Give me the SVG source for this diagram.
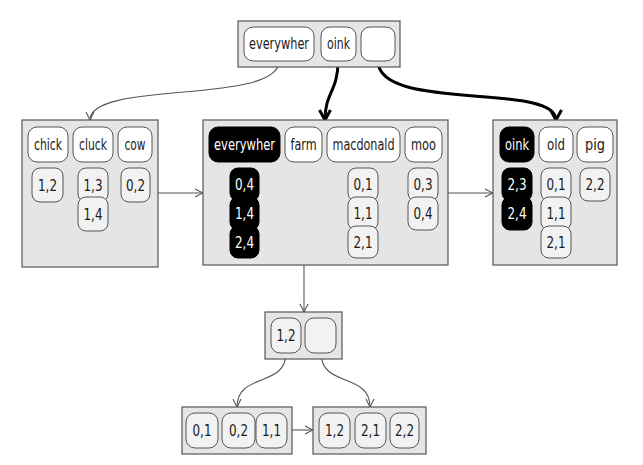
<svg xmlns="http://www.w3.org/2000/svg" width="643" height="465" viewBox="0 0 643 465">
  <defs>
    <style>
      text { font-family: "DejaVu Sans Condensed", "DejaVu Sans", "Liberation Sans", sans-serif; font-stretch: condensed; font-size: 16px; text-anchor: middle; fill: #1a1a1a; }
      .node { fill: #e5e5e5; stroke: #555; stroke-width: 1.2; }
      .key { fill: #fff; stroke: #555; stroke-width: 1; }
      .val { fill: #f2f2f2; stroke: #555; stroke-width: 1; }
      .hit { fill: #000; stroke: #000; stroke-width: 1; }
      text.inv { fill: #fff; }
      .thin { fill: none; stroke: #555; stroke-width: 1.1; }
      .thick { fill: none; stroke: #000; stroke-width: 3; }
    </style>
    <marker id="open" markerUnits="userSpaceOnUse" viewBox="0 0 10 10" refX="9" refY="5" markerWidth="10" markerHeight="10" orient="auto">
      <path d="M1,1 L9,5 L1,9" fill="none" stroke="#555" stroke-width="1.1"/>
    </marker>
    <marker id="openBold" markerUnits="userSpaceOnUse" viewBox="0 0 14 14" refX="12" refY="7" markerWidth="14" markerHeight="14" orient="auto">
      <path d="M2,1.5 L12,7 L2,12.5" fill="none" stroke="#000" stroke-width="3"/>
    </marker>
  </defs>

  <!-- connectors -->
  <g id="connectors">
    <path class="thin" d="M279,61 C279,105 90,80 90,120" marker-end="url(#open)"/>
    <path class="thick" d="M338,61 C338,92 325,92 325,120" marker-end="url(#openBold)"/>
    <path class="thick" d="M378,61 C378,112 556,82 556,120" marker-end="url(#openBold)"/>
    <path class="thin" d="M158,193 L203,193" marker-end="url(#open)"/>
    <path class="thin" d="M448,193 L493,193" marker-end="url(#open)"/>
    <path class="thin" d="M304,162 L304,312" marker-end="url(#open)"/>
    <path class="thin" d="M286,353 C286,388 237,372 237,407" marker-end="url(#open)"/>
    <path class="thin" d="M321,353 C321,388 370,372 370,407" marker-end="url(#open)"/>
    <path class="thin" d="M292,430 L313,430" marker-end="url(#open)"/>
  </g>

  <!-- root -->
  <g id="root">
    <rect class="node" x="238" y="21" width="162" height="46"/>
    <rect class="key" x="244" y="27" width="70" height="34" rx="9"/>
    <text x="279" y="49" textLength="60" lengthAdjust="spacingAndGlyphs">everywher</text>
    <rect class="key" x="321" y="27" width="35" height="34" rx="9"/>
    <text x="338.5" y="49" textLength="23" lengthAdjust="spacingAndGlyphs">oink</text>
    <rect class="key" x="361" y="27" width="34" height="34" rx="9"/>
  </g>

  <!-- left inner node -->
  <g id="node-c">
    <rect class="node" x="22" y="120" width="136" height="147"/>
    <rect class="key" x="28" y="127" width="40" height="35" rx="9"/>
    <text x="48" y="149.5" textLength="28" lengthAdjust="spacingAndGlyphs">chick</text>
    <rect class="key" x="73" y="127" width="40" height="35" rx="9"/>
    <text x="93" y="149.5" textLength="28" lengthAdjust="spacingAndGlyphs">cluck</text>
    <rect class="key" x="118" y="127" width="34" height="35" rx="9"/>
    <text x="135" y="149.5" textLength="21" lengthAdjust="spacingAndGlyphs">cow</text>
    <rect class="val" x="32" y="168" width="31" height="34" rx="8"/>
    <text x="47.5" y="190.5" textLength="19" lengthAdjust="spacingAndGlyphs">1,2</text>
    <rect class="val" x="78" y="168" width="30" height="34" rx="8"/>
    <text x="93" y="190.5" textLength="19" lengthAdjust="spacingAndGlyphs">1,3</text>
    <rect class="val" x="78" y="197" width="30" height="34" rx="8"/>
    <text x="93" y="219.5" textLength="19" lengthAdjust="spacingAndGlyphs">1,4</text>
    <rect class="val" x="121" y="168" width="29" height="34" rx="8"/>
    <text x="135.5" y="190.5" textLength="19" lengthAdjust="spacingAndGlyphs">0,2</text>
  </g>

  <!-- middle inner node -->
  <g id="node-e">
    <rect class="node" x="203" y="120" width="245" height="145"/>
    <rect class="hit" x="209" y="127" width="71" height="35" rx="9"/>
    <text class="inv" x="244.5" y="149.5" textLength="61" lengthAdjust="spacingAndGlyphs">everywher</text>
    <rect class="key" x="285" y="127" width="37" height="35" rx="9"/>
    <text x="303.5" y="149.5" textLength="26" lengthAdjust="spacingAndGlyphs">farm</text>
    <rect class="key" x="327" y="127" width="73" height="35" rx="9"/>
    <text x="363.5" y="149.5" textLength="62" lengthAdjust="spacingAndGlyphs">macdonald</text>
    <rect class="key" x="405" y="127" width="37" height="35" rx="9"/>
    <text x="423.5" y="149.5" textLength="25" lengthAdjust="spacingAndGlyphs">moo</text>
    <rect class="hit" x="230" y="168" width="29" height="33" rx="8"/>
    <text class="inv" x="244.5" y="190" textLength="19" lengthAdjust="spacingAndGlyphs">0,4</text>
    <rect class="hit" x="230" y="197" width="29" height="33" rx="8"/>
    <text class="inv" x="244.5" y="219" textLength="19" lengthAdjust="spacingAndGlyphs">1,4</text>
    <rect class="hit" x="230" y="226" width="29" height="32" rx="8"/>
    <text class="inv" x="244.5" y="247.5" textLength="19" lengthAdjust="spacingAndGlyphs">2,4</text>
    <rect class="val" x="348" y="168" width="30" height="33" rx="8"/>
    <text x="363" y="190" textLength="19" lengthAdjust="spacingAndGlyphs">0,1</text>
    <rect class="val" x="348" y="197" width="30" height="33" rx="8"/>
    <text x="363" y="219" textLength="19" lengthAdjust="spacingAndGlyphs">1,1</text>
    <rect class="val" x="348" y="226" width="30" height="32" rx="8"/>
    <text x="363" y="247.5" textLength="19" lengthAdjust="spacingAndGlyphs">2,1</text>
    <rect class="val" x="408" y="168" width="30" height="33" rx="8"/>
    <text x="423" y="190" textLength="19" lengthAdjust="spacingAndGlyphs">0,3</text>
    <rect class="val" x="408" y="197" width="30" height="33" rx="8"/>
    <text x="423" y="219" textLength="19" lengthAdjust="spacingAndGlyphs">0,4</text>
  </g>

  <!-- right inner node -->
  <g id="node-o">
    <rect class="node" x="493" y="120" width="124" height="145"/>
    <rect class="hit" x="500" y="127" width="34" height="35" rx="9"/>
    <text class="inv" x="517" y="149.5" textLength="24" lengthAdjust="spacingAndGlyphs">oink</text>
    <rect class="key" x="539" y="127" width="34" height="35" rx="9"/>
    <text x="556" y="149.5" textLength="18" lengthAdjust="spacingAndGlyphs">old</text>
    <rect class="key" x="577" y="127" width="36" height="35" rx="9"/>
    <text x="595" y="149.5" textLength="20" lengthAdjust="spacingAndGlyphs">pig</text>
    <rect class="hit" x="502" y="168" width="30" height="33" rx="8"/>
    <text class="inv" x="517" y="190" textLength="19" lengthAdjust="spacingAndGlyphs">2,3</text>
    <rect class="hit" x="502" y="197" width="30" height="33" rx="8"/>
    <text class="inv" x="517" y="219" textLength="19" lengthAdjust="spacingAndGlyphs">2,4</text>
    <rect class="val" x="541" y="168" width="30" height="33" rx="8"/>
    <text x="556" y="190" textLength="19" lengthAdjust="spacingAndGlyphs">0,1</text>
    <rect class="val" x="541" y="197" width="30" height="33" rx="8"/>
    <text x="556" y="219" textLength="19" lengthAdjust="spacingAndGlyphs">1,1</text>
    <rect class="val" x="541" y="226" width="30" height="32" rx="8"/>
    <text x="556" y="247.5" textLength="19" lengthAdjust="spacingAndGlyphs">2,1</text>
    <rect class="val" x="580" y="168" width="30" height="33" rx="8"/>
    <text x="595" y="190" textLength="19" lengthAdjust="spacingAndGlyphs">2,2</text>
  </g>

  <!-- farm subtree -->
  <g id="node-farm">
    <rect class="node" x="265" y="312" width="77" height="47"/>
    <rect class="val" x="271" y="318" width="30" height="35" rx="9"/>
    <text x="286" y="340.5" textLength="19" lengthAdjust="spacingAndGlyphs">1,2</text>
    <rect class="val" x="305" y="318" width="31" height="35" rx="9"/>
  </g>

  <g id="leaf-a">
    <rect class="node" x="182" y="407" width="110" height="47"/>
    <rect class="val" x="186" y="413" width="32" height="35" rx="9"/>
    <text x="202" y="435.5" textLength="19" lengthAdjust="spacingAndGlyphs">0,1</text>
    <rect class="val" x="222" y="413" width="33" height="35" rx="9"/>
    <text x="238.5" y="435.5" textLength="19" lengthAdjust="spacingAndGlyphs">0,2</text>
    <rect class="val" x="256" y="413" width="31" height="35" rx="9"/>
    <text x="271.5" y="435.5" textLength="19" lengthAdjust="spacingAndGlyphs">1,1</text>
  </g>

  <g id="leaf-b">
    <rect class="node" x="313" y="407" width="113" height="47"/>
    <rect class="val" x="319" y="413" width="31" height="35" rx="9"/>
    <text x="334.5" y="435.5" textLength="19" lengthAdjust="spacingAndGlyphs">1,2</text>
    <rect class="val" x="355" y="413" width="31" height="35" rx="9"/>
    <text x="370.5" y="435.5" textLength="19" lengthAdjust="spacingAndGlyphs">2,1</text>
    <rect class="val" x="390" y="413" width="29" height="35" rx="9"/>
    <text x="404.5" y="435.5" textLength="19" lengthAdjust="spacingAndGlyphs">2,2</text>
  </g>
</svg>
